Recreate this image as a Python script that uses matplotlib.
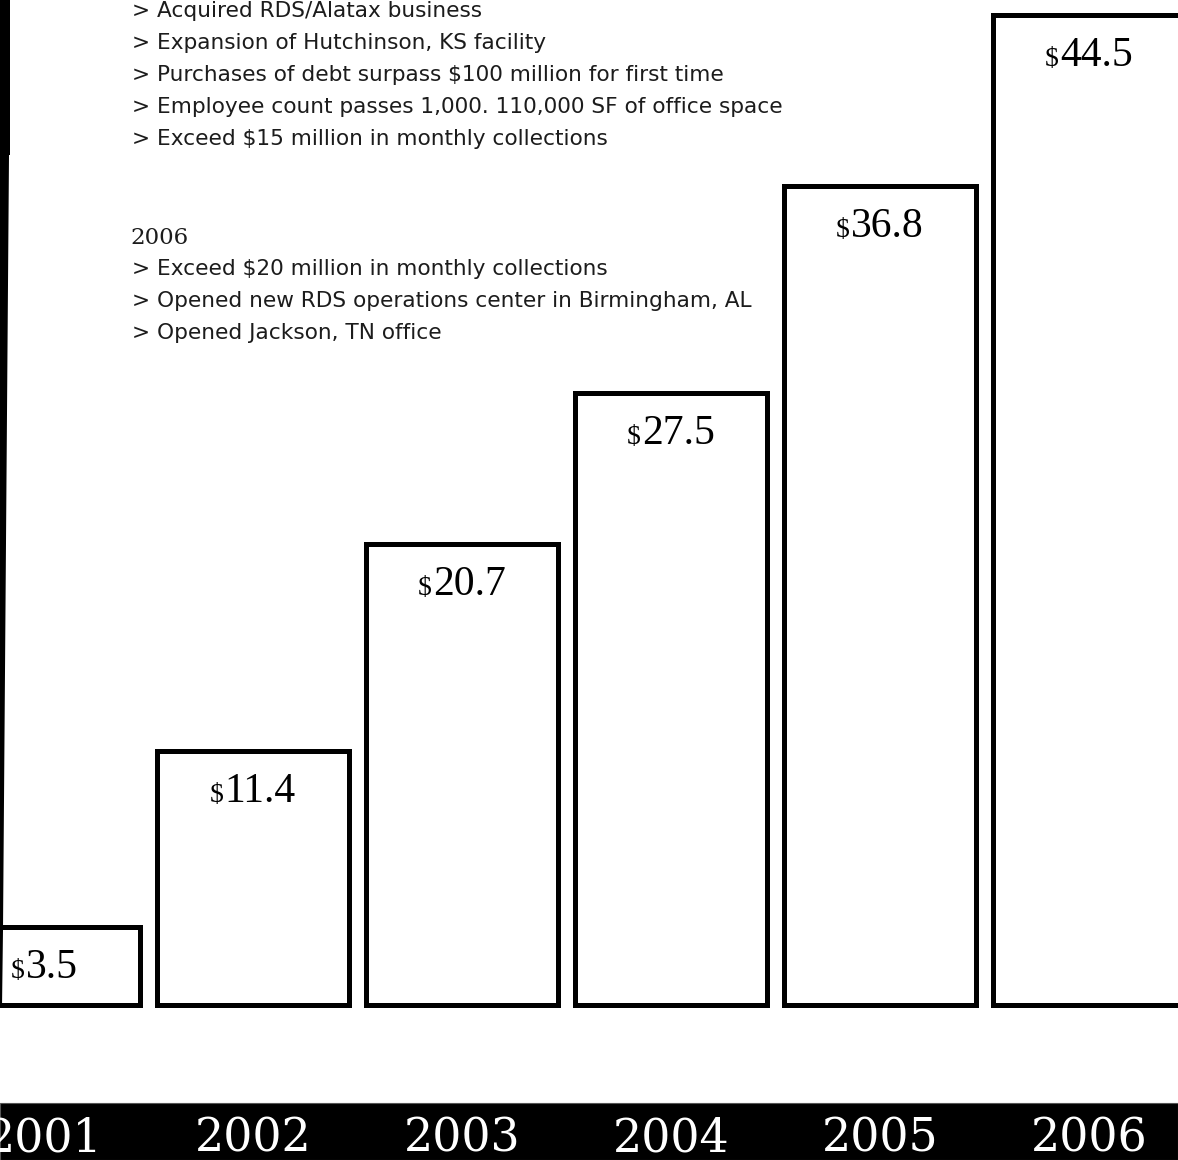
import matplotlib.pyplot as plt
from matplotlib.patches import Rectangle, Polygon
from matplotlib.transforms import blended_transform_factory

years = ["2001", "2002", "2003", "2004", "2005", "2006"]
values = [3.5, 11.4, 20.7, 27.5, 36.8, 44.5]

notes_top = [
    "> Acquired RDS/Alatax business",
    "> Expansion of Hutchinson, KS facility",
    "> Purchases of debt surpass $100 million for first time",
    "> Employee count passes 1,000. 110,000 SF of office space",
    "> Exceed $15 million in monthly collections",
]
notes_year = "2006"
notes_2006 = [
    "> Exceed $20 million in monthly collections",
    "> Opened new RDS operations center in Birmingham, AL",
    "> Opened Jackson, TN office",
]

W, H = 1178, 1160
SERIF = "Liberation Serif"
WIDE_SERIF = "DejaVu Serif"
SANS = "DejaVu Sans"
TXT = "#1c1c1c"

fig = plt.figure(figsize=(W / 100, H / 100), dpi=100)
ax = fig.add_axes([0, 0, 1, 1])
ax.axis("off")
ax.patch.set_visible(False)

# scale: bar i centred at 44 + 209*i px, 22.25 px per unit, base at 1005 px
ax.set_xlim(-44 / 209, (W - 44) / 209)
ax.set_ylim(-(H - 1005) / 22.25, 1005 / 22.25)

pos = list(range(len(years)))
ax.bar(pos, values, width=0.914, color="white", edgecolor="black",
       linewidth=3.6, zorder=2)

# value labels: small "$" + number, centred in bar
fig.canvas.draw()
r = fig.canvas.get_renderer()
for x, v in zip(pos, values):
    d = ax.annotate("$", (x, v), xytext=(0, -51), textcoords="offset pixels",
                    ha="left", va="baseline", fontsize=20, family=SERIF, color="black", zorder=3)
    n = ax.annotate(f"{v:.1f}", (x, v), xytext=(0, -51), textcoords="offset pixels",
                    ha="left", va="baseline", fontsize=30, family=SERIF, color="black", zorder=3)
    wd = d.get_window_extent(r).width
    wn = n.get_window_extent(r).width
    x0 = -(wd + wn + 1) / 2
    d.xyann = (x0, -51)
    n.xyann = (x0 + wd + 1, -51)

# left black edge
fig.add_artist(Rectangle((0, 1 - 155 / H), 10 / W, 155 / H, transform=fig.transFigure,
                         color="black", lw=0))
fig.add_artist(Polygon([(0, 1 - 155 / H), (9 / W, 1 - 155 / H), (3 / W, 1 - 930 / H),
                        (2 / W, 1 - 1008 / H), (0, 1 - 1008 / H)],
                       closed=True, transform=fig.transFigure, color="black", lw=0))

# bottom band with years
band = Rectangle((0, 0), 1, 57 / H, transform=fig.transFigure,
                 facecolor="black", edgecolor="#555555", lw=0.8, zorder=-1)
fig.add_artist(band)
tr = blended_transform_factory(ax.transData, fig.transFigure)
for x, y in zip(pos, years):
    ax.text(x, 9 / H, y, transform=tr, ha="center", va="baseline",
            fontsize=33, family=WIDE_SERIF, color="white", zorder=5)

# milestone notes
for i, s in enumerate(notes_top):
    fig.text(132 / W, 1 - (17 + 32 * i) / H, s, ha="left", va="baseline",
             fontsize=15.6, family=SANS, color=TXT)
fig.text(130 / W, 1 - 244 / H, notes_year, ha="left", va="baseline",
         fontsize=16.5, family=WIDE_SERIF, color=TXT)
for i, s in enumerate(notes_2006):
    fig.text(132 / W, 1 - (275 + 32 * i) / H, s, ha="left", va="baseline",
             fontsize=15.6, family=SANS, color=TXT)

fig.savefig("out.png", dpi=100)
